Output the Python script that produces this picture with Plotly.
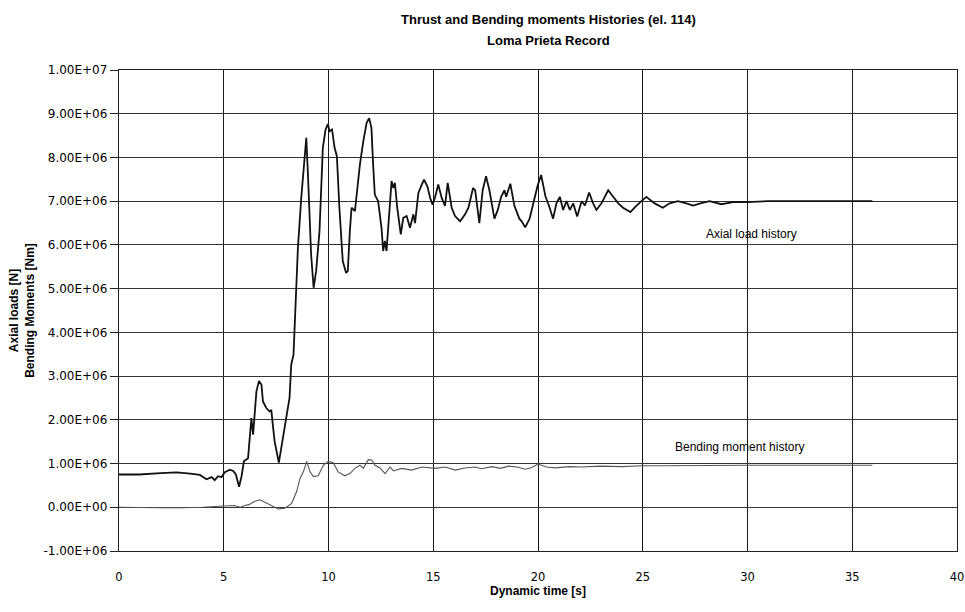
import plotly.graph_objects as go

# ---- data (values in units of 1e6) ----
t_axial = [0.0, 0.95, 2.0, 2.75, 3.4, 3.86, 4.18, 4.42, 4.57, 4.73, 4.89, 5.05, 5.29, 5.45, 5.58, 5.73,
           5.85, 5.96, 6.16, 6.32, 6.4, 6.56, 6.68, 6.8, 6.87, 7.03, 7.19, 7.27, 7.35, 7.43, 7.63, 7.83,
           7.98, 8.14, 8.22, 8.33, 8.46, 8.54, 8.7, 8.86, 8.94, 9.02, 9.17, 9.29, 9.41, 9.57, 9.73,
           9.86, 9.97, 10.05, 10.17, 10.29, 10.4, 10.52, 10.68, 10.84, 10.92, 11.02, 11.1, 11.26,
           11.37, 11.5, 11.66, 11.82, 11.94, 12.05, 12.13, 12.21, 12.37, 12.53, 12.61, 12.69, 12.77,
           12.9, 13.01, 13.09, 13.17, 13.28, 13.45, 13.57, 13.73, 13.89, 14.05, 14.13, 14.29, 14.45,
           14.56, 14.72, 14.85, 14.97, 15.08, 15.24, 15.4, 15.56, 15.69, 15.88, 16.04, 16.28, 16.52,
           16.68, 16.9, 17.0, 17.2, 17.36, 17.52, 17.68, 17.92, 18.08, 18.24, 18.4, 18.48, 18.68,
           18.87, 19.11, 19.22, 19.39, 19.6, 19.8, 19.99, 20.15, 20.36, 20.52, 20.72, 20.88, 21.04,
           21.2, 21.36, 21.52, 21.68, 21.87, 22.08, 22.24, 22.44, 22.63, 22.79, 23.03, 23.35, 23.59,
           23.83, 24.06, 24.41, 24.7, 25.17, 25.57, 25.96, 26.28, 26.68, 27.08, 27.4, 27.75, 28.19,
           28.75, 29.31, 29.95, 31.0, 32.0, 33.0, 34.0, 35.0, 35.96]
axial = [0.75, 0.75, 0.78, 0.8, 0.77, 0.74, 0.64, 0.69, 0.62, 0.71, 0.69, 0.8, 0.86, 0.83, 0.75, 0.47,
         0.71, 1.05, 1.12, 2.04, 1.66, 2.65, 2.89, 2.8, 2.42, 2.27, 2.19, 2.23, 1.85, 1.5, 1.02, 1.66,
         2.04, 2.5, 3.26, 3.49, 4.79, 5.93, 7.08, 8.0, 8.45, 7.6, 5.78, 5.02, 5.4, 6.31, 8.22,
         8.64, 8.76, 8.6, 8.64, 8.22, 8.03, 6.85, 5.63, 5.36, 5.4, 6.32, 6.85, 6.77,
         7.3, 7.84, 8.37, 8.79, 8.9, 8.67, 7.84, 7.15, 7.0, 6.39, 5.86, 6.09, 5.86,
         6.85, 7.46, 7.3, 7.42, 6.85, 6.24, 6.62, 6.66, 6.39, 6.7, 6.5, 7.19, 7.38,
         7.49, 7.34, 7.08, 6.92, 7.08, 7.38, 7.08, 6.89, 7.42, 6.85, 6.66, 6.54, 6.7,
         6.85, 7.3, 7.25, 6.5, 7.25, 7.57, 7.25, 6.6, 6.8, 7.1, 7.25, 7.1, 7.4,
         6.9, 6.6, 6.54, 6.4, 6.6, 7.0, 7.37, 7.6, 7.1, 6.9, 6.6, 6.95, 7.1,
         6.8, 7.0, 6.8, 6.95, 6.65, 7.0, 6.9, 7.2, 6.95, 6.8, 6.95, 7.25, 7.1,
         6.95, 6.85, 6.75, 6.9, 7.1, 6.95, 6.85, 6.95, 7.0, 6.95, 6.9, 6.95, 7.0,
         6.93, 6.98, 6.98, 7.0, 7.0, 7.0, 7.0, 7.0, 7.0]

t_bend = [0.0, 1.0, 2.0, 3.0, 4.0, 5.0, 5.5, 5.8, 6.0, 6.2, 6.49, 6.73, 7.05, 7.28, 7.6, 7.92, 8.24,
          8.48, 8.64, 8.8, 8.96, 9.12, 9.28, 9.51, 9.75, 9.99, 10.23, 10.46, 10.78, 11.02, 11.26,
          11.5, 11.66, 11.9, 12.06, 12.22, 12.46, 12.7, 12.94, 13.1, 13.49, 13.97, 14.45, 15.1,
          15.57, 16.05, 16.5, 17.0, 17.3, 17.8, 18.2, 18.6, 19.0, 19.4, 19.7, 20.0, 20.4, 20.8,
          21.5, 22.0, 23.0, 24.0, 25.0, 26.0, 28.0, 30.0, 32.0, 34.0, 35.96]
bend = [0.0, -0.01, -0.01, -0.01, 0.0, 0.03, 0.04, 0.0, 0.04, 0.06, 0.14, 0.17, 0.09, 0.05, -0.04,
        -0.02, 0.09, 0.36, 0.66, 0.81, 1.05, 0.81, 0.7, 0.72, 0.96, 1.05, 1.02, 0.81, 0.72, 0.77,
        0.89, 0.96, 0.89, 1.09, 1.08, 0.96, 0.9, 0.77, 0.92, 0.83, 0.89, 0.85, 0.92, 0.89, 0.92,
        0.85, 0.9, 0.92, 0.88, 0.93, 0.89, 0.94, 0.92, 0.87, 0.91, 0.99, 0.92, 0.9, 0.93, 0.92,
        0.94, 0.93, 0.95, 0.95, 0.96, 0.96, 0.96, 0.96, 0.96]

y_tickvals = [-1, 0, 1, 2, 3, 4, 5, 6, 7, 8, 9, 10]
y_ticktext = ["-1.00E+06", "0.00E+00", "1.00E+06", "2.00E+06", "3.00E+06", "4.00E+06",
              "5.00E+06", "6.00E+06", "7.00E+06", "8.00E+06", "9.00E+06", "1.00E+07"]
x_tickvals = [0, 5, 10, 15, 20, 25, 30, 35, 40]

SCALE = 1e6
fig = go.Figure()
fig.add_trace(go.Scatter(x=t_axial, y=[v * SCALE for v in axial], mode="lines",
                         line=dict(color="#111111", width=1.8), name="Axial load history"))
fig.add_trace(go.Scatter(x=t_bend, y=[v * SCALE for v in bend], mode="lines",
                         line=dict(color="#555555", width=1.1), name="Bending moment history"))

fnt = "DejaVu Sans, Arial, sans-serif"
bfnt = "Liberation Sans, Arial, sans-serif"
fig.update_layout(
    width=965, height=612,
    margin=dict(l=119, r=8, t=70, b=61, autoexpand=False),
    paper_bgcolor="white", plot_bgcolor="white",
    showlegend=False,
    font=dict(family=fnt, size=11, color="black"),
    xaxis=dict(range=[0, 40], tickvals=x_tickvals, showgrid=True, gridcolor="#1a1a1a", gridwidth=1.4,
               zeroline=False, showline=True, linecolor="#222222", linewidth=1, mirror=True,
               ticks="", ticklabelstandoff=15, tickfont=dict(family=fnt, size=11.5),
               automargin=False,
               title=dict(text="<b>Dynamic time [s]</b>", standoff=0,
                          font=dict(family=bfnt, size=12))),
    yaxis=dict(range=[-1e6, 1e7], tickvals=[v * SCALE for v in y_tickvals], ticktext=y_ticktext,
               showgrid=True, gridcolor="#333333", gridwidth=1, zeroline=False,
               showline=True, linecolor="#222222", linewidth=1.4, mirror=True,
               ticks="outside", ticklen=8, tickcolor="#222222",
               tickfont=dict(family=fnt, size=12), automargin=False,
               title=dict(text="<b>Axial loads [N]<br>Bending Moments [Nm]</b>", standoff=6,
                          font=dict(family=bfnt, size=12))),
    annotations=[
        dict(x=0.512, y=1.104, xref="paper", yref="paper", showarrow=False,
             xanchor="center", yanchor="middle",
             text="<b>Thrust and Bending moments Histories (el. 114)</b>",
             font=dict(family=bfnt, size=13)),
        dict(x=0.512, y=1.062, xref="paper", yref="paper", showarrow=False,
             xanchor="center", yanchor="middle",
             text="<b>Loma Prieta Record</b>", font=dict(family=bfnt, size=13)),
        dict(x=30.2, y=6.25e6, text="Axial load history", showarrow=False,
             font=dict(family=bfnt, size=12)),
        dict(x=29.6, y=1.37e6, text="Bending moment history", showarrow=False,
             font=dict(family=bfnt, size=12)),
    ],
)

fig.write_html("out.html", config={"displayModeBar": False},
               post_script="document.body.style.margin='0px';document.body.style.overflow='hidden';")
